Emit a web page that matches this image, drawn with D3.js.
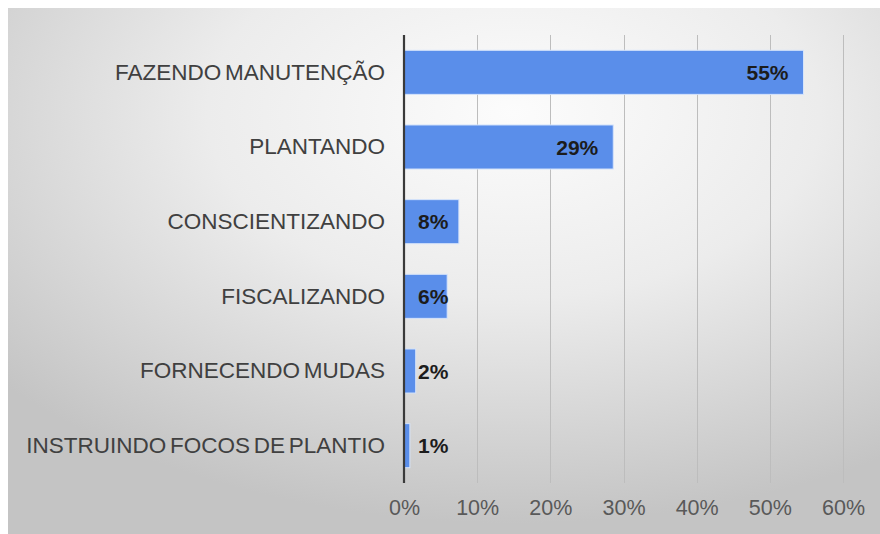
<!DOCTYPE html>
<html>
<head>
<meta charset="utf-8">
<script src="https://cdn.jsdelivr.net/npm/d3@7"></script>
<style>
  html, body { margin: 0; padding: 0; background: #ffffff; }
  svg { display: block; }
  text { font-family: "Liberation Sans", Arial, sans-serif; }
</style>
</head>
<body>
<svg id="chart" width="880" height="534"></svg>
<script>
// Activities and share of respondents (fraction of total)
const categories = [
  "FAZENDO MANUTENÇÃO",
  "PLANTANDO",
  "CONSCIENTIZANDO",
  "FISCALIZANDO",
  "FORNECENDO MUDAS",
  "INSTRUINDO FOCOS DE PLANTIO"
];
const shares = [0.546, 0.286, 0.075, 0.059, 0.016, 0.008];
const tickValues = [0, 0.1, 0.2, 0.3, 0.4, 0.5, 0.6];

const svg = d3.select("#chart");
const W = 880, H = 534;

// Panel background with soft radial shading
const defs = svg.append("defs");
const grad = defs.append("radialGradient")
  .attr("id", "bg")
  .attr("cx", "0.58").attr("cy", "0.2")
  .attr("r", "0.78");
grad.append("stop").attr("offset", "0").attr("stop-color", "#fcfcfc");
grad.append("stop").attr("offset", "0.45").attr("stop-color", "#ececec");
grad.append("stop").attr("offset", "1").attr("stop-color", "#c4c4c4");

svg.append("rect")
  .attr("x", 8).attr("y", 8)
  .attr("width", W - 8).attr("height", H - 8)
  .attr("fill", "url(#bg)");

const plot = { left: 404, right: 843, top: 35, bottom: 483 };

const x = d3.scaleLinear()
  .domain([0, 0.6])
  .range([plot.left, plot.right]);

const y = d3.scaleBand()
  .domain(categories)
  .range([plot.top, plot.bottom])
  .paddingInner(0.41)
  .paddingOuter(0.205);

// Vertical gridlines
svg.append("g")
  .selectAll("line")
  .data(tickValues.filter(v => v > 0))
  .join("line")
  .attr("x1", d => Math.round(x(d)) + 0.5)
  .attr("x2", d => Math.round(x(d)) + 0.5)
  .attr("y1", plot.top)
  .attr("y2", plot.bottom)
  .attr("stroke", "#bdbdbd")
  .attr("stroke-width", 1);

// Bottom axis: tick labels only
const xAxis = d3.axisBottom(x)
  .tickValues(tickValues)
  .tickFormat(d3.format(".0%"))
  .tickSize(0)
  .tickPadding(0);

const gx = svg.append("g")
  .attr("transform", `translate(0, ${plot.bottom + 17})`)
  .call(xAxis);
gx.select(".domain").remove();
gx.selectAll("text")
  .attr("font-size", 21.5)
  .attr("fill", "#595959")
  .attr("dy", "0.71em")
  .style("font-family", "'Liberation Sans', Arial, sans-serif");

// Bars
svg.append("g")
  .selectAll("rect")
  .data(categories)
  .join("rect")
  .attr("x", x(0))
  .attr("y", d => y(d))
  .attr("width", (d, i) => x(shares[i]) - x(0))
  .attr("height", y.bandwidth())
  .attr("fill", "#5a8eea")
  .attr("stroke", "#d6e4fb")
  .attr("stroke-width", 1);

// Category labels on the left
const yAxis = d3.axisLeft(y).tickSize(0).tickPadding(0);
const gy = svg.append("g")
  .attr("transform", `translate(${plot.left - 19}, 0)`)
  .call(yAxis);
gy.select(".domain").remove();
gy.selectAll("text")
  .attr("font-size", 22.5)
  .attr("fill", "#404040")
  .attr("word-spacing", -2.5)
  .style("font-family", "'Liberation Sans', Arial, sans-serif");

// Vertical category axis line
svg.append("line")
  .attr("x1", x(0)).attr("x2", x(0))
  .attr("y1", plot.top).attr("y2", plot.bottom)
  .attr("stroke", "#3a3a3a")
  .attr("stroke-width", 2.2);

// Value labels: inside the bar end, or starting from the base when the bar is short
const fmt = v => Math.round(v * 100) + "%";
const labels = svg.append("g")
  .selectAll("text")
  .data(categories)
  .join("text")
  .attr("y", d => y(d) + y.bandwidth() / 2)
  .attr("dy", "0.36em")
  .attr("text-anchor", "end")
  .attr("font-size", 21)
  .attr("font-weight", "bold")
  .attr("fill", "#1c1c1c")
  .text((d, i) => fmt(shares[i]));

labels.each(function (d, i) {
  const w = this.getComputedTextLength();
  const inside = x(shares[i]) - 15;
  const fromBase = x(0) + 14 + w;
  d3.select(this).attr("x", Math.max(inside, fromBase));
});
</script>
</body>
</html>
